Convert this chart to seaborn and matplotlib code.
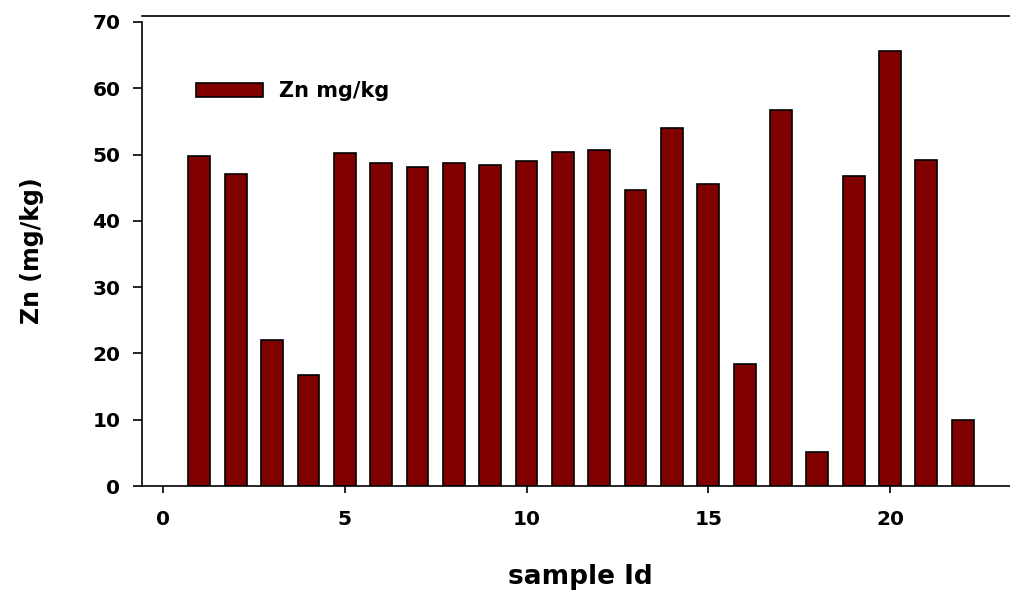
import matplotlib
matplotlib.use("Agg")
import matplotlib.pyplot as plt
import seaborn as sns
import pandas as pd

# ---- data ----
sample_ids = list(range(1, 23))
zn_values = [49.8, 47.1, 22.0, 16.7, 50.2, 48.7, 48.1, 48.7, 48.4, 49.0, 50.4,
             50.7, 44.6, 54.0, 45.5, 18.4, 56.7, 5.1, 46.8, 65.6, 49.2, 10.0]
x_ticks = [0, 5, 10, 15, 20]
y_ticks = [0, 10, 20, 30, 40, 50, 60, 70]

sns.set_style("ticks")
plt.rcParams["font.family"] = ["DejaVu Sans"]
plt.rcParams["font.weight"] = "bold"
plt.rcParams["text.color"] = "black"
plt.rcParams["axes.labelcolor"] = "black"
plt.rcParams["xtick.color"] = "black"
plt.rcParams["ytick.color"] = "black"

df = pd.DataFrame({"sample": sample_ids, "zn": zn_values})

fig = plt.figure(figsize=(10.10, 5.90), dpi=100)
ax = fig.add_axes([142 / 1010, 1 - 486 / 590, 1 - 142 / 1010, (486 - 16) / 590])

sns.barplot(data=df, x="sample", y="zn", native_scale=True, width=0.6,
            color="#800000", saturation=1, edgecolor="black", linewidth=1.2,
            label="Zn mg/kg", ax=ax)

ax.set_xlim(-0.578, 23.3)
ax.set_ylim(0, 70.9)
ax.set_xticks(x_ticks)
ax.set_yticks(y_ticks)
ax.tick_params(axis="both", labelsize=14.5, width=1.2, color="black",
               labelcolor="black")
ax.tick_params(axis="x", length=5, pad=12)
ax.tick_params(axis="y", length=6.5, pad=9)
for lab in ax.get_xticklabels() + ax.get_yticklabels():
    lab.set_fontweight("bold")

for side in ["left", "bottom", "top"]:
    ax.spines[side].set_visible(True)
    ax.spines[side].set_linewidth(1.2)
    ax.spines[side].set_color("black")
ax.spines["right"].set_visible(False)
ax.spines["left"].set_bounds(0, 70)

ax.set_xlabel("sample Id", fontsize=19, fontweight="bold", va="top", color="black")
ax.xaxis.set_label_coords(0.505, -0.165)
ax.set_ylabel("Zn (mg/kg)", fontsize=17, fontweight="bold", color="black")
ax.yaxis.set_label_coords(-0.113, 0.5)

leg = ax.legend(loc="center left", bbox_to_anchor=(196 / 1010, 1 - 91 / 590),
                bbox_transform=fig.transFigure, frameon=False,
                prop={"size": 15, "weight": "bold"}, handlelength=3.2,
                handleheight=0.67, handletextpad=0.77, borderpad=0,
                borderaxespad=0)
for t in leg.get_texts():
    t.set_color("black")

fig.savefig("out.png", dpi=100)
